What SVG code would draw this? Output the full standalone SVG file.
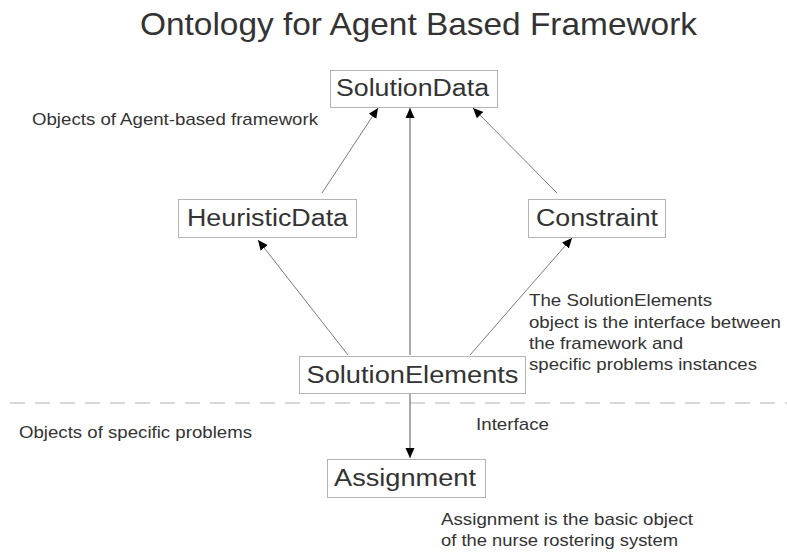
<svg xmlns="http://www.w3.org/2000/svg" width="787" height="552" viewBox="0 0 787 552">
  <style>
    text { font-family: "Liberation Sans", Arial, sans-serif; fill: #333; }
    .title { font-size: 32px; }
    .node rect { fill: #fff; stroke: #b3b3b3; stroke-width: 1; }
    .node text { font-size: 23px; text-anchor: middle; }
    .note { font-size: 17px; }
    .edge { stroke: #7a7a7a; stroke-width: 1; fill: none; }
    .edge.strong { stroke: #555; }
    .divider { stroke: #b3b3b3; stroke-width: 1; stroke-dasharray: 15 10; }
  </style>
  <defs>
    <marker id="arrow" viewBox="0 0 10 10" refX="10" refY="5" markerWidth="10" markerHeight="10" markerUnits="userSpaceOnUse" orient="auto">
      <path d="M0,0.5 L10,5 L0,9.5 z" fill="#000"/>
    </marker>
  </defs>

  <rect width="787" height="552" fill="#fff"/>

  <text class="title" x="140" y="35" textLength="557" lengthAdjust="spacingAndGlyphs">Ontology for Agent Based Framework</text>

  <!-- boundary between framework objects and problem-specific objects -->
  <line class="divider" x1="10" y1="403" x2="787" y2="403"/>

  <g id="connectors">
    <line class="edge" x1="322" y1="193" x2="378" y2="108" marker-end="url(#arrow)"/>
    <line class="edge strong" x1="410" y1="355" x2="410" y2="108" marker-end="url(#arrow)"/>
    <line class="edge" x1="557" y1="193" x2="473" y2="108" marker-end="url(#arrow)"/>
    <line class="edge" x1="348" y1="355" x2="258" y2="240" marker-end="url(#arrow)"/>
    <line class="edge" x1="470" y1="355" x2="572" y2="238" marker-end="url(#arrow)"/>
    <line class="edge strong" x1="410" y1="394" x2="410" y2="458" marker-end="url(#arrow)"/>
  </g>

  <g id="SolutionData" class="node">
    <rect x="330.5" y="70.5" width="167" height="37"/>
    <text x="412.5" y="96" textLength="153" lengthAdjust="spacingAndGlyphs">SolutionData</text>
  </g>
  <g id="HeuristicData" class="node">
    <rect x="178.5" y="199.5" width="178" height="38"/>
    <text x="267.5" y="226" textLength="161" lengthAdjust="spacingAndGlyphs">HeuristicData</text>
  </g>
  <g id="Constraint" class="node">
    <rect x="528.5" y="199.5" width="137" height="38"/>
    <text x="597" y="226" textLength="122" lengthAdjust="spacingAndGlyphs">Constraint</text>
  </g>
  <g id="SolutionElements" class="node">
    <rect x="299.5" y="356.5" width="226" height="37"/>
    <text x="412.5" y="383" textLength="212" lengthAdjust="spacingAndGlyphs">SolutionElements</text>
  </g>
  <g id="Assignment" class="node">
    <rect x="327.5" y="459.5" width="158" height="38"/>
    <text x="405" y="486" textLength="142" lengthAdjust="spacingAndGlyphs">Assignment</text>
  </g>

  <text class="note" x="32" y="125" textLength="286" lengthAdjust="spacingAndGlyphs">Objects of Agent-based framework</text>
  <text class="note" x="19" y="438" textLength="233" lengthAdjust="spacingAndGlyphs">Objects of specific problems</text>
  <text class="note" x="476" y="430" textLength="73" lengthAdjust="spacingAndGlyphs">Interface</text>
  <text class="note" x="529" y="306" textLength="183" lengthAdjust="spacingAndGlyphs">The SolutionElements</text>
  <text class="note" x="529" y="327.5" textLength="252" lengthAdjust="spacingAndGlyphs">object is the interface between</text>
  <text class="note" x="529" y="349" textLength="154" lengthAdjust="spacingAndGlyphs">the framework and</text>
  <text class="note" x="529" y="370" textLength="228" lengthAdjust="spacingAndGlyphs">specific problems instances</text>
  <text class="note" x="441" y="525" textLength="252" lengthAdjust="spacingAndGlyphs">Assignment is the basic object</text>
  <text class="note" x="441" y="546" textLength="237" lengthAdjust="spacingAndGlyphs">of the nurse rostering system</text>
</svg>
